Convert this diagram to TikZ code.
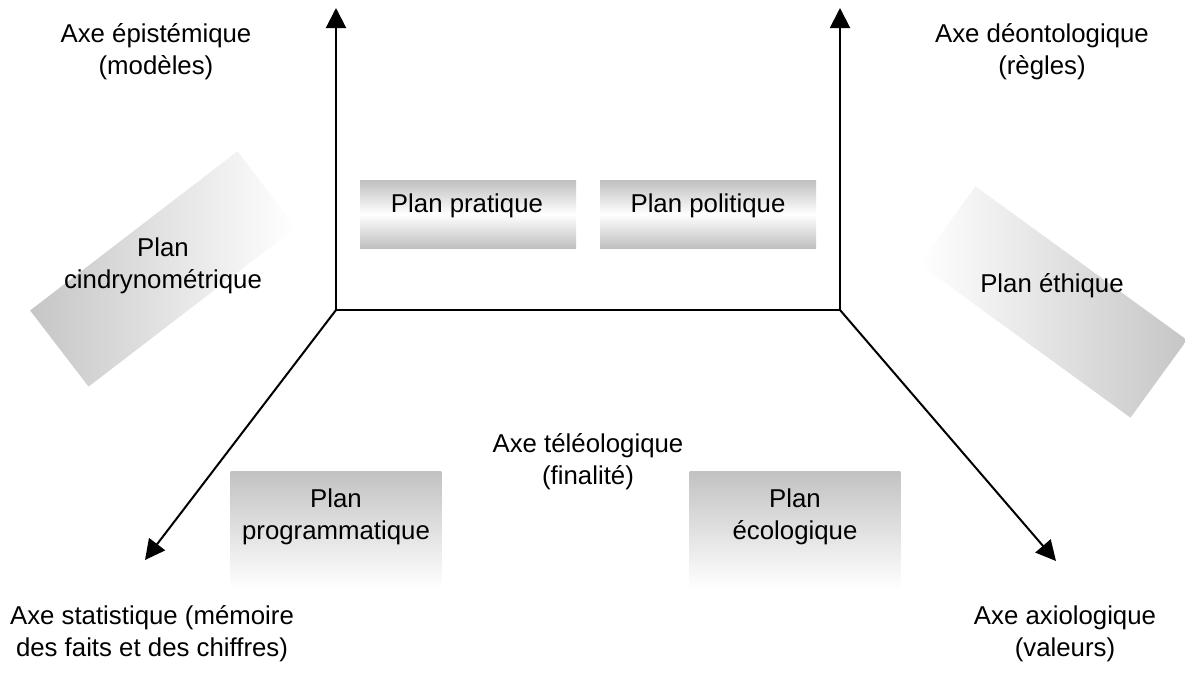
\documentclass[tikz,border=0pt]{standalone}
\usepackage{fontspec}
\setmainfont{Liberation Sans}
\usetikzlibrary{arrows.meta}
% centred lines of text with a fixed line pitch
\newcommand{\lines}[1]{\fontsize{19.35}{24}\selectfont
  \begin{tabular}{@{}c@{}}#1\end{tabular}}
\begin{document}
\begin{tikzpicture}[x=0.75pt,y=-0.75pt,
  axis/.style={line width=1.5pt, -{Triangle[length=15pt,width=15pt]}},
  lbl/.style={inner sep=0pt},
  flatbox/.style={minimum width=162pt, minimum height=51pt, inner sep=0pt,
    top color=gray!50, bottom color=gray!50, middle color=white},
  lowbox/.style={minimum width=158pt, minimum height=88.5pt, inner sep=0pt,
    top color=gray!48, bottom color=white},
  tiltbox/.style={minimum width=196pt, minimum height=72pt, inner sep=0pt}]
\useasboundingbox (0,0) rectangle (1185,676);

% shaded planes
\node[flatbox] (pratbox) at (468,214) {};
\node[flatbox] (polibox) at (708,214) {};
\node[lowbox] (progbox) at (336,530) {};
\node[lowbox] (ecobox) at (795,530) {};
\node[tiltbox, rotate=37.5, left color=gray!45, right color=white] (cindbox) at (163,269) {};
\node[tiltbox, rotate=-36, left color=white, right color=gray!45] (ethbox) at (1053,302) {};

% plane names
\node[lbl] (prat) at (467,205.6) {\lines{Plan pratique}};
\node[lbl] (poli) at (708,205.6) {\lines{Plan politique}};
\node[lbl] (prog) at (336,516.6) {\lines{Plan\\programmatique}};
\node[lbl] (eco) at (795,516.6) {\lines{Plan\\écologique}};
\node[lbl] (cind) at (163,265.6) {\lines{Plan\\cindrynométrique}};
\node[lbl] (eth) at (1052,285.6) {\lines{Plan éthique}};

% axes
\coordinate (o1) at (336,310);
\coordinate (o2) at (840,310);
\coordinate (tepi) at (336,8);
\coordinate (tdeo) at (840,8);
\coordinate (tsta) at (145,560);
\coordinate (taxi) at (1056,561);
\draw[line width=1.5pt] (o1) -- (o2);
\draw[axis] (o1) -- (tepi);
\draw[axis] (o2) -- (tdeo);
\draw[axis] (o1) -- (tsta);
\draw[axis] (o2) -- (taxi);

% axis names
\node[lbl] (epi) at (156,51.6) {\lines{Axe épistémique\\(modèles)}};
\node[lbl] (deo) at (1042,51.6) {\lines{Axe déontologique\\(règles)}};
\node[lbl] (tele) at (588,461.6) {\lines{Axe téléologique\\(finalité)}};
\node[lbl] (sta) at (152,633.6) {\lines{Axe statistique (mémoire\\des faits et des chiffres)}};
\node[lbl] (axi) at (1065,633.6) {\lines{Axe axiologique\\(valeurs)}};
\end{tikzpicture}
\end{document}
